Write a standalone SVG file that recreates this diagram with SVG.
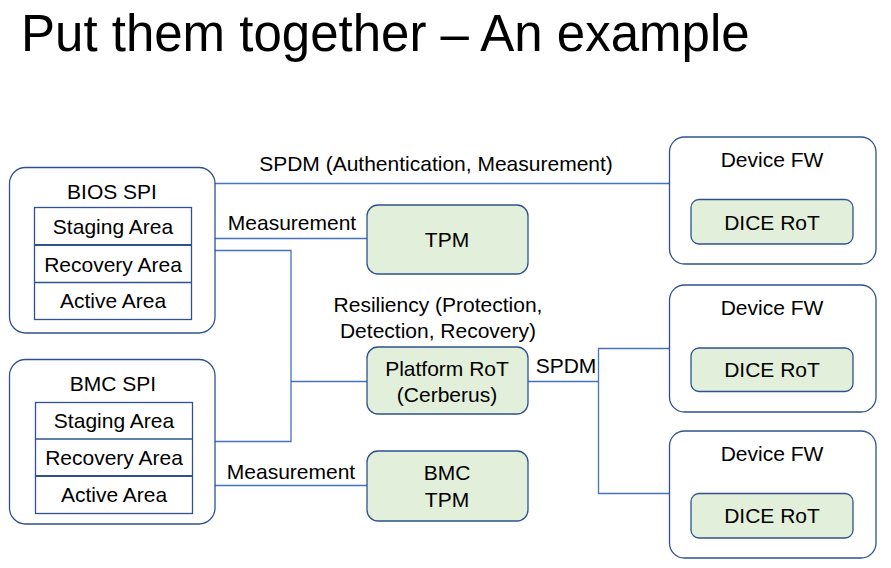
<svg xmlns="http://www.w3.org/2000/svg" width="891" height="568" viewBox="0 0 891 568">
<style>
text{font-family:"Liberation Sans",Arial,sans-serif;font-size:21px;fill:#000;text-anchor:middle}
.title{font-size:51px;text-anchor:start}
.outer{fill:#fff;stroke:#2F528F;stroke-width:1.3}
.green{fill:#E2EFDA;stroke:#2F528F;stroke-width:1.3}
.cell{fill:#fff;stroke:#2F528F;stroke-width:1.3}
.sep{stroke:#2F528F;stroke-width:2.2}
.conn{fill:none;stroke:#4472C4;stroke-width:1.3}
.lbl{text-anchor:start}
</style>
<rect width="891" height="568" fill="#fff"/>
<text class="title" x="21" y="51">Put them together – An example</text>

<g id="connectors">
<line class="conn" x1="215" y1="183.5" x2="669" y2="183.5"/>
<line class="conn" x1="215" y1="238.5" x2="367" y2="238.5"/>
<polyline class="conn" points="215,250.5 291,250.5 291,441.5 215,441.5"/>
<line class="conn" x1="291" y1="381.5" x2="367" y2="381.5"/>
<line class="conn" x1="528" y1="381.5" x2="598.5" y2="381.5"/>
<polyline class="conn" points="669,348.5 598.5,348.5 598.5,493.5 669,493.5"/>
<line class="conn" x1="215" y1="485.5" x2="367" y2="485.5"/>
<text x="436" y="171">SPDM (Authentication, Measurement)</text>
<text x="292" y="230">Measurement</text>
<text x="438" y="312">Resiliency (Protection,</text>
<text x="438" y="338">Detection, Recovery)</text>
<text x="566" y="373">SPDM</text>
<text x="291" y="479">Measurement</text>
</g>

<g id="bios-spi">
<rect class="outer" x="9.5" y="167.5" width="205.5" height="165.5" rx="16"/>
<text x="112" y="199">BIOS SPI</text>
<rect class="cell" x="34.5" y="207.5" width="157" height="112"/>
<line class="sep" x1="34.5" y1="245" x2="191.5" y2="245"/>
<line class="cell" x1="34.5" y1="282.5" x2="191.5" y2="282.5"/>
<text x="113" y="234">Staging Area</text>
<text x="113" y="272">Recovery Area</text>
<text x="113" y="308">Active Area</text>
</g>

<g id="bmc-spi">
<rect class="outer" x="9.5" y="359.5" width="205.5" height="164.5" rx="16"/>
<text x="113" y="391">BMC SPI</text>
<rect class="cell" x="35.5" y="402.5" width="157" height="111"/>
<line class="cell" x1="35.5" y1="439" x2="192.5" y2="439"/>
<line class="sep" x1="35.5" y1="476" x2="192.5" y2="476"/>
<text x="114" y="428">Staging Area</text>
<text x="114" y="465">Recovery Area</text>
<text x="114" y="502">Active Area</text>
</g>

<g id="tpm">
<rect class="green" x="367" y="205" width="161" height="69" rx="11"/>
<text x="447" y="247">TPM</text>
</g>

<g id="platform-rot">
<rect class="green" x="367" y="347" width="161" height="67" rx="11"/>
<text x="447" y="376">Platform RoT</text>
<text x="447" y="402">(Cerberus)</text>
</g>

<g id="bmc-tpm">
<rect class="green" x="367" y="451" width="161" height="70" rx="11"/>
<text x="447" y="480">BMC</text>
<text x="447" y="507">TPM</text>
</g>

<g id="device-fw-1">
<rect class="outer" x="669.5" y="137" width="206.5" height="127" rx="15"/>
<text x="772" y="167">Device FW</text>
<rect class="green" x="691" y="199.5" width="162" height="44.5" rx="8"/>
<text x="772" y="230">DICE RoT</text>
</g>

<g id="device-fw-2">
<rect class="outer" x="669.5" y="285" width="206.5" height="127" rx="15"/>
<text x="772" y="315">Device FW</text>
<rect class="green" x="691" y="348" width="162" height="43.5" rx="8"/>
<text x="772" y="377">DICE RoT</text>
</g>

<g id="device-fw-3">
<rect class="outer" x="669.5" y="431" width="206.5" height="127" rx="15"/>
<text x="772" y="461">Device FW</text>
<rect class="green" x="691" y="493.5" width="162" height="44.5" rx="8"/>
<text x="772" y="523">DICE RoT</text>
</g>
</svg>
